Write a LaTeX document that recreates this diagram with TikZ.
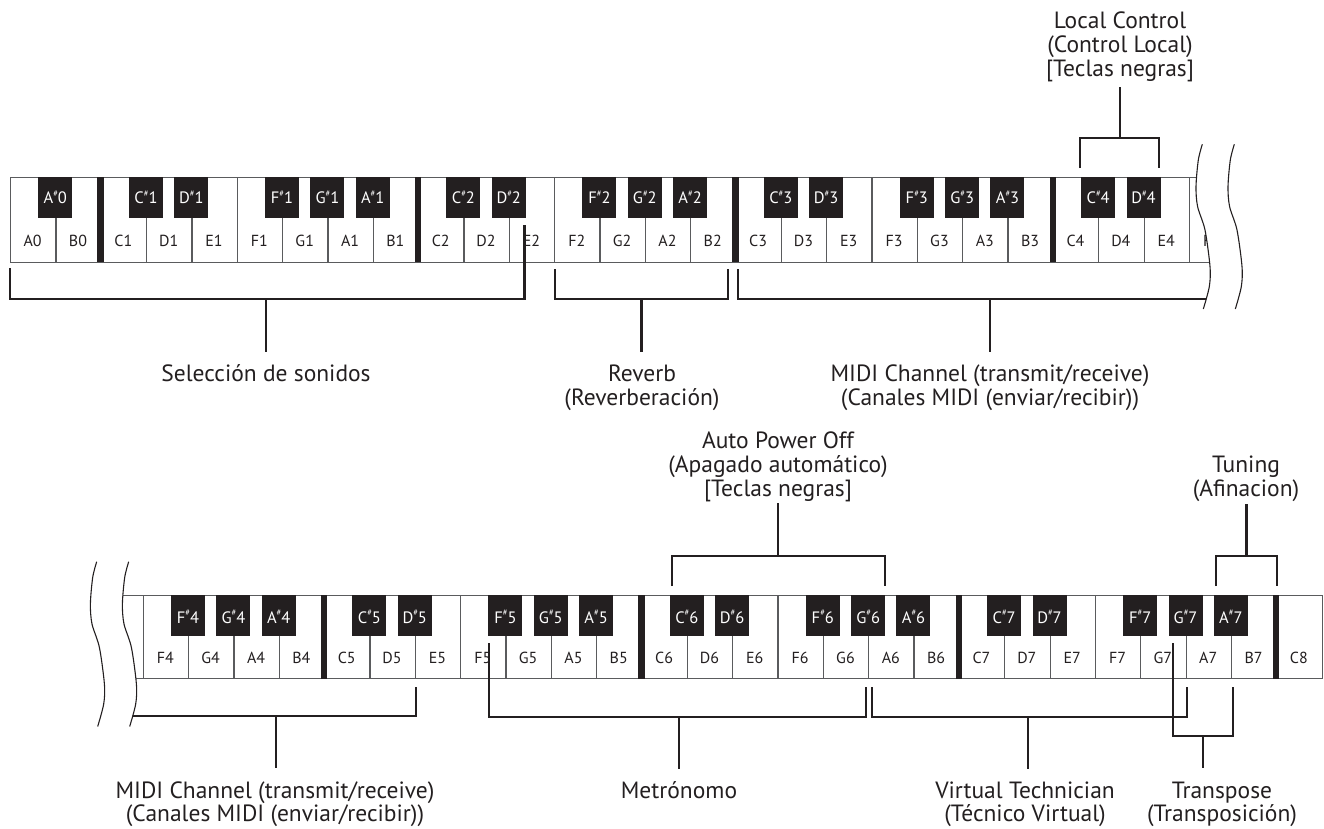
\documentclass[tikz,border=0pt]{standalone}
\usepackage{fontspec}
\setmainfont{PT Sans}
\usetikzlibrary{calc}
\definecolor{ink}{HTML}{231F20}
\definecolor{keyline}{HTML}{5A5B5D}
\newcommand\mysharp{\raisebox{0.45em}{\fontsize{8.5}{8.5}\selectfont\#}}
\begin{document}
\begin{tikzpicture}[x=1pt,y=-1pt,
  wkey/.style={draw=keyline, line width=1.3pt, fill=white, inner sep=0pt, minimum width=45.34pt, anchor=north west},
  bkey/.style={fill=ink, draw=none, inner sep=0pt, minimum width=34pt, minimum height=41.5pt, anchor=north},
  cbar/.style={fill=ink, draw=none, inner sep=0pt, minimum width=6.5pt, anchor=north},
  wlbl/.style={font=\fontsize{16}{16}\selectfont, text=ink, anchor=base, inner sep=0pt},
  blbl/.style={font=\fontsize{16.5}{16.5}\selectfont, text=white, anchor=base, inner sep=0pt},
  bracket/.style={draw=ink, line width=2.8pt, line join=miter},
  lbl/.style={font=\fontsize{23.5}{23.5}\selectfont, text=ink, anchor=base, inner sep=0pt},
  wave/.style={draw=ink, line width=1.1pt},
]
\useasboundingbox (0,0) rectangle (1324,828);
\def\kw{45.34}
% ---------------- top keyboard ----------------
\def\xa{10}\def\ya{177}\def\kha{84.5}
\begin{scope}
\clip (0,100) -- (1202.3,100) -- plot[smooth] coordinates {(1202.3,144.3) (1198.3,160) (1196,186.6) (1197.6,206.6) (1205,230) (1210,266.6) (1209.3,286.6) (1203.3,309)} -- (1203.3,420) -- (0,420) -- cycle;
\foreach \n [count=\i from 0] in {A0,B0,C1,D1,E1,F1,G1,A1,B1,C2,D2,E2,F2,G2,A2,B2,C3,D3,E3,F3,G3,A3,B3,C4,D4,E4,F4}{
  \node[wkey, minimum height=\kha pt] (tw\n) at ({\xa+\i*\kw},\ya) {};
  \node[wlbl] (twl\n) at ({\xa+(\i+0.5)*\kw},{\ya+69.5}) {\n};
}
\foreach \j in {2,9,16,23}{
  \node[cbar, minimum height=85.8pt] (tc\j) at ({\xa+\j*\kw},{\ya-0.65}) {};
}
\foreach \j/\l/\o in {1/A/0,3/C/1,4/D/1,6/F/1,7/G/1,8/A/1,10/C/2,11/D/2,13/F/2,14/G/2,15/A/2,17/C/3,18/D/3,20/F/3,21/G/3,22/A/3,24/C/4,25/D/4}{
  \node[bkey] (tb\l\o) at ({\xa+\j*\kw},{\ya-0.65}) {};
  \node[blbl] (tbl\l\o) at ({\xa+\j*\kw},{\ya+26.5}) {\l\mysharp\o};
}
% MIDI channel bracket (top)
\coordinate (mtL) at (738,269);
\coordinate (mtR) at (1215,299);
\draw[bracket] (mtL) -- (mtL|-mtR) -- (mtR);
\end{scope}
\draw[wave] plot[smooth] coordinates {(1202.3,144.3) (1198.3,160) (1196,186.6) (1197.6,206.6) (1205,230) (1210,266.6) (1209.3,286.6) (1203.3,309)};
\draw[wave] plot[smooth] coordinates {(1234.3,144.3) (1230.3,160) (1228,186.6) (1229.6,206.6) (1237,230) (1242,266.6) (1241.3,286.6) (1235.3,309)};

% Seleccion de sonidos
\coordinate (selL) at (10,268);
\coordinate (selR) at (524.3,225);
\coordinate (selB) at (0,299);
\draw[bracket] (selL) -- (selL|-selB) -- (selR|-selB) -- (selR);
\coordinate (selM) at (266,299);
\coordinate (selE) at (266,352);
\draw[bracket] (selM) -- (selE);
\node[lbl] (sel1) at (266,381) {Selección de sonidos};
% Reverb
\coordinate (revL) at (555,269);
\coordinate (revR) at (728,269);
\draw[bracket] (revL) -- (revL|-selB) -- (revR|-selB) -- (revR);
\coordinate (revM) at (641.5,299);
\coordinate (revE) at (641.5,352);
\draw[bracket] (revM) -- (revE);
\node[lbl] (rev1) at (642,381) {Reverb};
\node[lbl] (rev2) at (642,405) {(Reverberación)};
% MIDI top stem
\coordinate (mtM) at (990,299);
\coordinate (mtE) at (990,352);
\draw[bracket] (mtM) -- (mtE);
\node[lbl] (mt1) at (990,381) {MIDI Channel (transmit/receive)};
\node[lbl] (mt2) at (990,405) {(Canales MIDI (enviar/recibir))};
% Local control
\coordinate (lcL) at (1080,168);
\coordinate (lcR) at (1159,168);
\coordinate (lcT) at (0,138);
\draw[bracket] (lcL) -- (lcL|-lcT) -- (lcR|-lcT) -- (lcR);
\coordinate (lcM) at (1120,138);
\coordinate (lcE) at (1120,87);
\draw[bracket] (lcM) -- (lcE);
\node[lbl] (lc1) at (1120,28.3) {Local Control};
\node[lbl] (lc2) at (1120,52.5) {(Control Local)};
\node[lbl] (lc3) at (1120,76.5) {[Teclas negras]};

% ---------------- bottom keyboard ----------------
\def\xb{97.36}\def\yb{595}\def\khb{83}
\begin{scope}
\clip (128.7,450) -- plot[smooth] coordinates {(128.7,561.7) (124.7,577.4) (122.4,604) (124,624) (131.4,647.4) (136.4,684) (135.7,704) (129.7,726.4)} -- (129.7,760) -- (1330,760) -- (1330,450) -- cycle;
\foreach \n [count=\i from 0] in {E4,F4,G4,A4,B4,C5,D5,E5,F5,G5,A5,B5,C6,D6,E6,F6,G6,A6,B6,C7,D7,E7,F7,G7,A7,B7,C8}{
  \node[wkey, minimum height=\khb pt] (bw\n) at ({\xb+\i*\kw},\yb) {};
  \node[wlbl] (bwl\n) at ({\xb+(\i+0.5)*\kw},{\yb+68.5}) {\n};
}
\foreach \j in {5,12,19,26}{
  \node[cbar, minimum height=84.3pt] (bc\j) at ({\xb+\j*\kw},{\yb-0.65}) {};
}
\foreach \j/\l/\o in {2/F/4,3/G/4,4/A/4,6/C/5,7/D/5,9/F/5,10/G/5,11/A/5,13/C/6,14/D/6,16/F/6,17/G/6,18/A/6,20/C/7,21/D/7,23/F/7,24/G/7,25/A/7}{
  \node[bkey] (bb\l\o) at ({\xb+\j*\kw},{\yb-0.65}) {};
  \node[blbl] (bbl\l\o) at ({\xb+\j*\kw},{\yb+28}) {\l\mysharp\o};
}
% MIDI channel bracket (bottom)
\coordinate (mbL) at (110,716);
\coordinate (mbR) at (416,687);
\draw[bracket] (mbL) -- (mbR|-mbL) -- (mbR);
\end{scope}
\draw[wave] plot[smooth] coordinates {(96.7,561.7) (92.7,577.4) (90.4,604) (92,624) (99.4,647.4) (104.4,684) (103.7,704) (97.7,726.4)};
\draw[wave] plot[smooth] coordinates {(128.7,561.7) (124.7,577.4) (122.4,604) (124,624) (131.4,647.4) (136.4,684) (135.7,704) (129.7,726.4)};

\coordinate (mbM) at (276,716);
\coordinate (mbE) at (276,768);
\draw[bracket] (mbM) -- (mbE);
\node[lbl] (mb1) at (275,798) {MIDI Channel (transmit/receive)};
\node[lbl] (mb2) at (275,821) {(Canales MIDI (enviar/recibir))};
% Auto power off
\coordinate (apL) at (672,586);
\coordinate (apR) at (885,586);
\coordinate (apT) at (0,556);
\draw[bracket] (apL) -- (apL|-apT) -- (apR|-apT) -- (apR);
\coordinate (apM) at (778,556);
\coordinate (apE) at (778,503);
\draw[bracket] (apM) -- (apE);
\node[lbl] (ap1) at (778,448) {Auto Power Off};
\node[lbl] (ap2) at (778,472) {(Apagado automático)};
\node[lbl] (ap3) at (778,496) {[Teclas negras]};
% Tuning
\coordinate (tuL) at (1216,586);
\coordinate (tuR) at (1277,586);
\draw[bracket] (tuL) -- (tuL|-apT) -- (tuR|-apT) -- (tuR);
\coordinate (tuM) at (1246.5,556);
\coordinate (tuE) at (1246.5,504);
\draw[bracket] (tuM) -- (tuE);
\node[lbl] (tu1) at (1246,472) {Tuning};
\node[lbl] (tu2) at (1246,496) {(Afinacion)};
% Metronomo
\coordinate (meL) at (489,643);
\coordinate (meR) at (866,687);
\coordinate (meB) at (0,717);
\draw[bracket] (meL) -- (meL|-meB) -- (meR|-meB) -- (meR);
\coordinate (meM) at (679,717);
\coordinate (meE) at (679,769);
\draw[bracket] (meM) -- (meE);
\node[lbl] (me1) at (679,798) {Metrónomo};
% Virtual technician
\coordinate (vtL) at (872,687);
\coordinate (vtR) at (1187,687);
\draw[bracket] (vtL) -- (vtL|-meB) -- (vtR|-meB) -- (vtR);
\coordinate (vtM) at (1028,717);
\coordinate (vtE) at (1028,769);
\draw[bracket] (vtM) -- (vtE);
\node[lbl] (vt1) at (1025,798) {Virtual Technician};
\node[lbl] (vt2) at (1025,821) {(Técnico Virtual)};
% Transpose
\coordinate (trL) at (1173,643);
\coordinate (trR) at (1233,687);
\coordinate (trB) at (0,736);
\draw[bracket] (trL) -- (trL|-trB) -- (trR|-trB) -- (trR);
\coordinate (trM) at (1203,736);
\coordinate (trE) at (1203,768);
\draw[bracket] (trM) -- (trE);
\node[lbl] (tr1) at (1222,798) {Transpose};
\node[lbl] (tr2) at (1222,821) {(Transposición)};
\end{tikzpicture}
\end{document}
